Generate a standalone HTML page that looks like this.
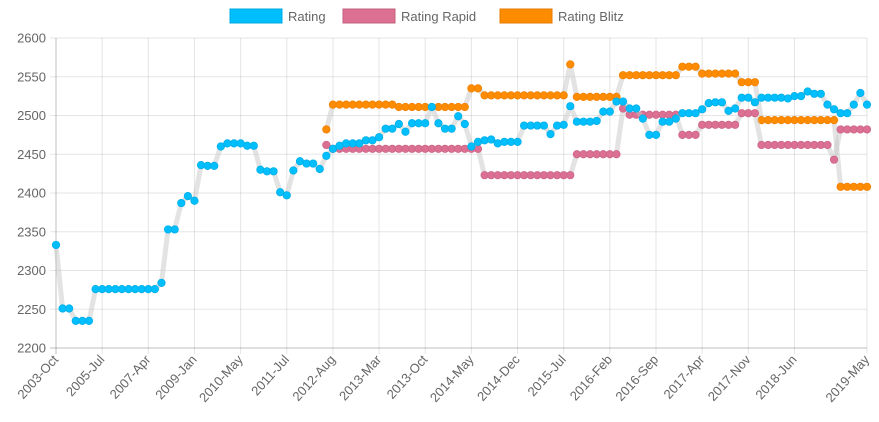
<!DOCTYPE html>
<html><head><meta charset="utf-8"><style>
html,body{margin:0;padding:0;background:#fff;}
svg{display:block;font-family:"Liberation Sans",Arial,sans-serif;}
</style></head><body>
<svg id="chart" width="879" height="422" viewBox="0 0 879 422" xmlns="http://www.w3.org/2000/svg">
<g id="legend">
 <g><rect x="230" y="9" width="52" height="14" fill="#00bfff" stroke="#00a8e0" stroke-width="1"/><text x="288" y="21" font-size="13" fill="#666">Rating</text></g>
 <g><rect x="343" y="9" width="52" height="14" fill="#db7093" stroke="#c4607f" stroke-width="1"/><text x="401" y="21" font-size="13" fill="#666">Rating Rapid</text></g>
 <g><rect x="500" y="9" width="52" height="14" fill="#ff8c00" stroke="#e07b00" stroke-width="1"/><text x="558" y="21" font-size="13" fill="#666">Rating Blitz</text></g>
</g>
<g id="grid"></g>
<g id="yaxis"></g>
<g id="xaxis"></g>
<g id="series"></g>
</svg>
<script>
const categories=["2003-Oct","2004-Jan","2004-Apr","2004-Jul","2004-Oct","2005-Jan","2005-Apr","2005-Jul","2005-Oct","2006-Jan","2006-Apr","2006-Jul","2006-Oct","2007-Jan","2007-Apr","2007-Jul","2007-Oct","2008-Jan","2008-Apr","2008-Jul","2008-Oct","2009-Jan","2009-Apr","2009-Jul","2009-Sep","2009-Nov","2010-Jan","2010-Mar","2010-May","2010-Jul","2010-Sep","2010-Nov","2011-Jan","2011-Mar","2011-May","2011-Jul","2011-Sep","2011-Nov","2012-Jan","2012-Mar","2012-May","2012-Jul",
"2012-Aug","2012-Sep","2012-Oct","2012-Nov","2012-Dec",
"2013-Jan","2013-Feb","2013-Mar","2013-Apr","2013-May","2013-Jun","2013-Jul","2013-Aug","2013-Sep","2013-Oct","2013-Nov","2013-Dec",
"2014-Jan","2014-Feb","2014-Mar","2014-Apr","2014-May","2014-Jun","2014-Jul","2014-Aug","2014-Sep","2014-Oct","2014-Nov","2014-Dec",
"2015-Jan","2015-Feb","2015-Mar","2015-Apr","2015-May","2015-Jun","2015-Jul","2015-Aug","2015-Sep","2015-Oct","2015-Nov","2015-Dec",
"2016-Jan","2016-Feb","2016-Mar","2016-Apr","2016-May","2016-Jun","2016-Jul","2016-Aug","2016-Sep","2016-Oct","2016-Nov","2016-Dec",
"2017-Jan","2017-Feb","2017-Mar","2017-Apr","2017-May","2017-Jun","2017-Jul","2017-Aug","2017-Sep","2017-Oct","2017-Nov","2017-Dec",
"2018-Jan","2018-Feb","2018-Mar","2018-Apr","2018-May","2018-Jun","2018-Jul","2018-Aug","2018-Sep","2018-Oct","2018-Nov","2018-Dec",
"2019-Jan","2019-Feb","2019-Mar","2019-Apr","2019-May"];
const rating=[2333,2251,2251,2235,2235,2235,2276,2276,2276,2276,2276,2276,2276,2276,2276,2276,2284,2353,2353,2387,2396,2390,2436,2435,2435,2460,2464,2464,2464,2461,2461,2430,2428,2428,2401,2397,2429,2441,2438,2438,2431,2448,2457,2461,2464,2464,2464,2468,2468,2472,2483,2483,2489,2479,2490,2490,2490,2511,2490,2483,2483,2499,2489,2460,2466,2468,2469,2464,2466,2466,2466,2487,2487,2487,2487,2476,2487,2488,2512,2492,2492,2492,2493,2505,2505,2518,2518,2509,2509,2496,2475,2475,2492,2492,2496,2503,2503,2503,2508,2516,2517,2517,2506,2509,2523,2523,2517,2523,2523,2523,2523,2522,2525,2525,2531,2528,2528,2514,2508,2503,2503,2514,2529,2514];
const ratingRapid=[null,null,null,null,null,null,null,null,null,null,null,null,null,null,null,null,null,null,null,null,null,null,null,null,null,null,null,null,null,null,null,null,null,null,null,null,null,null,null,null,null,2462,2457,2457,2457,2457,2457,2457,2457,2457,2457,2457,2457,2457,2457,2457,2457,2457,2457,2457,2457,2457,2457,2457,2457,2423,2423,2423,2423,2423,2423,2423,2423,2423,2423,2423,2423,2423,2423,2450,2450,2450,2450,2450,2450,2450,2509,2501,2501,2501,2501,2501,2501,2501,2501,2475,2475,2475,2488,2488,2488,2488,2488,2488,2503,2503,2503,2462,2462,2462,2462,2462,2462,2462,2462,2462,2462,2462,2443,2482,2482,2482,2482,2482];
const ratingBlitz=[null,null,null,null,null,null,null,null,null,null,null,null,null,null,null,null,null,null,null,null,null,null,null,null,null,null,null,null,null,null,null,null,null,null,null,null,null,null,null,null,null,2482,2514,2514,2514,2514,2514,2514,2514,2514,2514,2514,2511,2511,2511,2511,2511,2511,2511,2511,2511,2511,2511,2535,2535,2526,2526,2526,2526,2526,2526,2526,2526,2526,2526,2526,2526,2526,2566,2524,2524,2524,2524,2524,2524,2524,2552,2552,2552,2552,2552,2552,2552,2552,2552,2563,2563,2563,2554,2554,2554,2554,2554,2554,2543,2543,2543,2494,2494,2494,2494,2494,2494,2494,2494,2494,2494,2494,2494,2408,2408,2408,2408,2408];
const yTicks=[2200,2250,2300,2350,2400,2450,2500,2550,2600];

const NS="http://www.w3.org/2000/svg";
const X0=56,X1=867,Y0=38,Y1=348,YMIN=2200,YMAX=2600;
function xs(i){return X0+i*(X1-X0)/(categories.length-1);}
function ys(v){return Y1-(v-YMIN)/(YMAX-YMIN)*(Y1-Y0);}
function mk(tag,attrs,parent){const e=document.createElementNS(NS,tag);for(const k in attrs)e.setAttribute(k,attrs[k]);parent.appendChild(e);return e;}
const grid=document.getElementById('grid'),ya=document.getElementById('yaxis'),xa=document.getElementById('xaxis'),ser=document.getElementById('series');
yTicks.forEach(t=>{
 const l=mk('line',{x1:X0-6,x2:X1,y1:ys(t),y2:ys(t),stroke:t===YMIN?'rgba(0,0,0,0.25)':'rgba(0,0,0,0.1)','stroke-width':1},grid);
 
 
 const tx=mk('text',{x:X0-10,y:ys(t)+4.5,'text-anchor':'end','font-size':13,fill:'#666'},ya);
 tx.textContent=t;
 
 
});
const step=7,last=categories.length-1;
const shown=[];
for(let i=0;i<=last;i+=step){if(last-i>=step)shown.push(i);}
shown.push(last);
shown.forEach(i=>{
 const x=xs(i);
 const l=mk('line',{x1:x,x2:x,y1:Y0,y2:Y1+6,stroke:i===0?'rgba(0,0,0,0.25)':'rgba(0,0,0,0.1)','stroke-width':1},grid);
 
 
 const tx=mk('text',{x:x+3,y:Y1+12,'text-anchor':'end','font-size':13,fill:'#666',transform:'rotate(-48 '+(x+3)+' '+(Y1+12)+')'},xa);
 tx.textContent=categories[i];
 
 
});
function drawSeries(data,fill,stroke,name){
 const g=mk('g',{},ser);
 
 
 let d='';let pen=false;
 data.forEach((v,i)=>{if(v==null){pen=false;return;}d+=(pen?'L':'M')+xs(i).toFixed(2)+' '+ys(v).toFixed(2)+' ';pen=true;});
 const p=mk('path',{d:d,fill:'none',stroke:'rgba(200,200,200,0.5)','stroke-width':5,'stroke-linejoin':'round'},g);
 
 
 data.forEach((v,i)=>{if(v==null)return;
  const c=mk('circle',{cx:xs(i),cy:ys(v),r:3.7,fill:fill,stroke:stroke,'stroke-width':0.8},g);
  
  
 });
}
drawSeries(ratingBlitz,'#ff8c00','#f08000','rating-blitz-series');
drawSeries(ratingRapid,'#db7093','#cc6688','rating-rapid-series');
drawSeries(rating,'#00bfff','#00aee8','rating-series');
</script>
</body></html>
